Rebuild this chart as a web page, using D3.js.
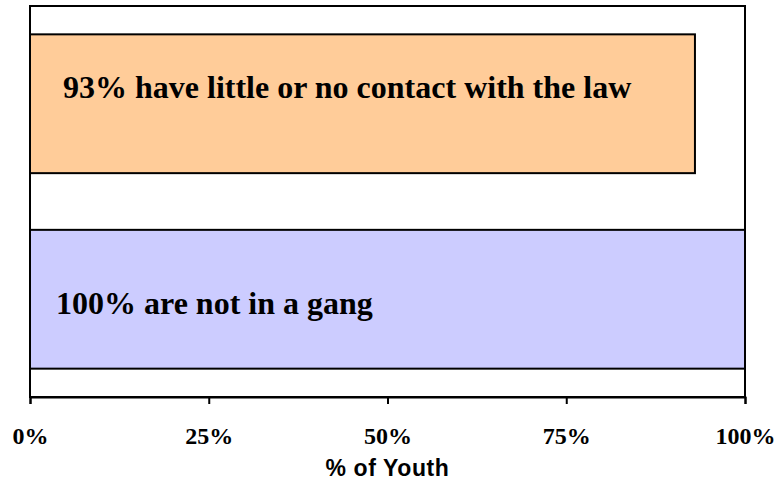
<!DOCTYPE html>
<html><head><meta charset="utf-8">
<script src="https://cdn.jsdelivr.net/npm/d3@7"></script>
<style>body{margin:0;background:#fff}svg{display:block}</style>
</head><body>
<svg id="c" width="780" height="481"></svg>
<script>
const categories = ["Contact with the law", "Gang membership"];
const values = [93, 100];
const labels = ["93% have little or no contact with the law", "100% are not in a gang"];
const colors = ["#FFCC99", "#CCCCFF"];
const tickValues = [0, 25, 50, 75, 100];
const tickLabels = ["0%", "25%", "50%", "75%", "100%"];
const axisTitle = "% of Youth";

const svg = d3.select("#c");
const m = {left: 30, right: 745, top: 6, bottom: 397};
const x = d3.scaleLinear().domain([0, 100]).range([m.left, m.right]);
const y = d3.scaleBand().domain(categories).range([m.top, m.bottom]).paddingInner(0.29).paddingOuter(0.145);

// frame
svg.append("rect").attr("x", m.left).attr("y", m.top).attr("width", m.right - m.left).attr("height", m.bottom - m.top)
  .attr("fill", "#fff").attr("stroke", "#000").attr("stroke-width", 2);

// bars
svg.selectAll("rect.bar").data(categories).join("rect").attr("class", "bar")
  .attr("x", x(0)).attr("y", d => y(d))
  .attr("width", (d, i) => x(values[i]) - x(0)).attr("height", y.bandwidth())
  .attr("fill", (d, i) => colors[i]).attr("stroke", "#000").attr("stroke-width", 2);

// labels
const labelX = [63, 56];
const labelDy = [-6, 15];
svg.selectAll("text.lbl").data(categories).join("text").attr("class", "lbl")
  .attr("x", (d, i) => labelX[i]).attr("y", (d, i) => y(d) + y.bandwidth() / 2 + labelDy[i])
  .attr("font-family", "Liberation Serif, Times New Roman, serif").attr("font-weight", "bold")
  .attr("font-size", 32).attr("fill", "#000").text((d, i) => labels[i]);

// axis
const axis = d3.axisBottom(x).tickValues(tickValues).tickFormat((d, i) => tickLabels[i]).tickSize(7).tickPadding(23);
const g = svg.append("g").attr("transform", `translate(0,${m.bottom})`).call(axis);
g.select(".domain").attr("stroke", "#000").attr("stroke-width", 2);
g.selectAll(".tick line").attr("stroke", "#000").attr("stroke-width", 2);
g.selectAll(".tick text").attr("font-family", "Liberation Serif, Times New Roman, serif")
  .attr("font-weight", "bold").attr("font-size", 24).attr("fill", "#000");

svg.append("text").attr("x", (m.left + m.right) / 2).attr("y", 476).attr("text-anchor", "middle")
  .attr("font-family", "Liberation Sans, Arial, sans-serif").attr("font-weight", "bold")
  .attr("font-size", 23).attr("letter-spacing", 0.6).attr("fill", "#000").text(axisTitle);
</script>
</body></html>
